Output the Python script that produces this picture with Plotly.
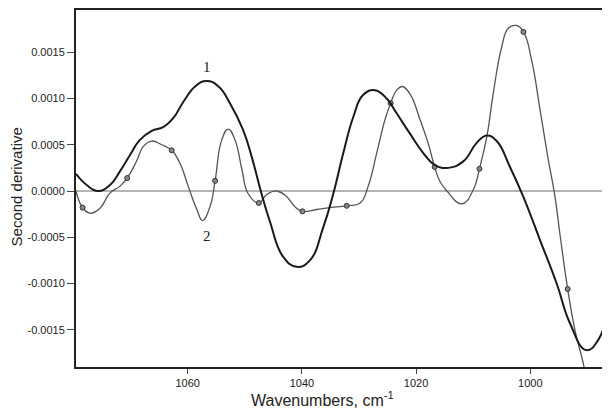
import plotly.graph_objects as go

# Curve 1 (thick black)
c1_wn = [1079.56, 1077.7, 1075.7, 1073.6, 1071.9, 1070.1, 1068.4, 1066.3, 1064.3, 1062.5,
         1060.8, 1058.7, 1056.7, 1054.6, 1052.6, 1050.3, 1048.7, 1047.2, 1045.6, 1043.3,
         1040.9, 1038.6, 1036.25, 1034.5, 1032.75, 1031.0, 1029.25, 1027.2, 1025.15, 1023.4,
         1021.07, 1018.74, 1016.69, 1014.36, 1011.73, 1009.39, 1007.64, 1005.88, 1003.56, 1001.23,
         998.3, 995.38, 993.05, 990.2, 988.1, 986.04]
c1_val = [0.000185, 0.000065, 0.0, 0.000065, 0.00021, 0.00039, 0.00055, 0.00065, 0.00069, 0.00079,
          0.00096, 0.00113, 0.00119, 0.00113, 0.00095, 0.00066, 0.00035, 0.0, -0.00033, -0.00071,
          -0.00082, -0.00075, -0.00039, -0.00003, 0.00041, 0.0008, 0.00104, 0.00109, 0.001, 0.00084,
          0.00062, 0.00041, 0.00028, 0.00025, 0.00032, 0.00052, 0.0006, 0.00054, 0.00026, -0.00006,
          -0.00053, -0.001, -0.00143, -0.00172, -0.00161, -0.00119]

# Curve 2 (thin gray with markers)
c2_wn = [1079.56, 1078.4, 1077.1, 1075.4, 1073.6, 1071.9, 1070.6, 1068.9, 1067.8, 1066.3,
         1064.55, 1062.8, 1061.35, 1059.9, 1058.4, 1057.4, 1056.1, 1055.2, 1054.05, 1052.9,
         1051.7, 1050.5, 1049.4, 1047.55, 1046.2, 1044.4, 1042.7, 1041.2, 1039.9, 1037.4,
         1035.1, 1032.15, 1029.8, 1028.4, 1026.9, 1025.45, 1024.45, 1023.4, 1022.4, 1021.07,
         1019.3, 1017.9, 1016.75, 1015.8, 1014.6, 1012.0, 1010.0, 1008.9, 1007.6, 1006.5,
         1005.0, 1003.85, 1002.5, 1001.2, 999.75, 998.3, 996.85, 995.7, 994.8, 993.45,
         992.2, 990.6, 989.9]
c2_val = [0.0, -0.00018, -0.00024, -0.00019, -0.00002, 0.00005, 0.00014, 0.00033, 0.00048, 0.00054,
          0.0005, 0.00044, 0.0003, 0.00005, -0.0002, -0.00032, -0.00017, 0.00011, 0.00055, 0.00067,
          0.00055, 0.00023, -0.00003, -0.00013, -0.00004, 0.0, -0.00006, -0.00017, -0.00022, -0.0002,
          -0.00018, -0.00016, -0.00013, 0.00005, 0.00041, 0.00077, 0.00095, 0.00109, 0.00113, 0.00105,
          0.00077, 0.00052, 0.00026, 0.0001, 0.0, -0.00014, 0.00001, 0.00024, 0.00059, 0.00105,
          0.00156, 0.00176, 0.00179, 0.00172, 0.00141, 0.00088, 0.00034, -0.00005, -0.00047, -0.00106,
          -0.0015, -0.0019, -0.00218]
c2_marker_idx = [1, 6, 11, 17, 23, 28, 31, 36, 42, 47, 53, 59]

x_tick_vals = [1060, 1040, 1020, 1000]
x_tick_text = ["1060", "1040", "1020", "1000"]
y_tick_vals = [0.0015, 0.0010, 0.0005, 0.0, -0.0005, -0.0010, -0.0015]
y_tick_text = ["0.0015", "0.0010", "0.0005", "0.0000", "-0.0005", "-0.0010", "-0.0015"]

fig = go.Figure()
fig.add_trace(go.Scatter(x=c2_wn, y=c2_val, mode="lines",
                         line=dict(color="#555555", width=1.3, shape="spline", smoothing=1.3),
                         hoverinfo="skip", showlegend=False))
fig.add_trace(go.Scatter(x=[c2_wn[i] for i in c2_marker_idx], y=[c2_val[i] for i in c2_marker_idx],
                         mode="markers",
                         marker=dict(symbol="circle", size=5, color="#888888",
                                     line=dict(color="#333333", width=1)),
                         showlegend=False))
fig.add_trace(go.Scatter(x=c1_wn, y=c1_val, mode="lines",
                         line=dict(color="#1a1a1a", width=2, shape="spline", smoothing=1.3),
                         showlegend=False))

fig.add_annotation(x=1056.7, y=0.00134, text="1", showarrow=False,
                   font=dict(family="Liberation Serif", size=15, color="#222"))
fig.add_annotation(x=1056.7, y=-0.00049, text="2", showarrow=False,
                   font=dict(family="Liberation Serif", size=15, color="#222"))

# Axis titles placed as annotations for exact positioning
fig.add_annotation(xref="paper", yref="paper", x=0.4625, y=0, yanchor="middle", yshift=-32,
                   text="Wavenumbers, cm<sup>-1</sup>", showarrow=False,
                   font=dict(size=16, color="#222"))
fig.add_annotation(xref="paper", yref="paper", x=0, y=0.503, xanchor="center", xshift=-60,
                   text="Second derivative", textangle=-90, showarrow=False,
                   font=dict(size=15, color="#222"))

# The page body has an 8px margin; compensate so the plot lands at the reference pixels
fig.update_layout(
    width=602, height=401,
    margin=dict(l=68, r=0, t=2, b=42),
    paper_bgcolor="white", plot_bgcolor="white",
    font=dict(family="Liberation Sans, Arial, sans-serif", color="#222"),
    xaxis=dict(range=[1079.56, 986.04], tickvals=x_tick_vals, ticktext=x_tick_text,
               ticks="outside", ticklen=5, tickcolor="#444", tickwidth=1,
               showline=True, linecolor="#222", linewidth=2, mirror=True,
               showgrid=False, zeroline=False, tickfont=dict(size=11)),
    yaxis=dict(range=[-0.001903, 0.001957], tickvals=y_tick_vals, ticktext=y_tick_text,
               ticks="outside", ticklen=7, tickcolor="#444", tickwidth=1,
               showline=True, linecolor="#222", linewidth=2, mirror=False,
               showgrid=False, zeroline=True, zerolinecolor="#b5b5b5", zerolinewidth=1.5,
               tickfont=dict(size=11)),
)

fig.write_html("out.html")
